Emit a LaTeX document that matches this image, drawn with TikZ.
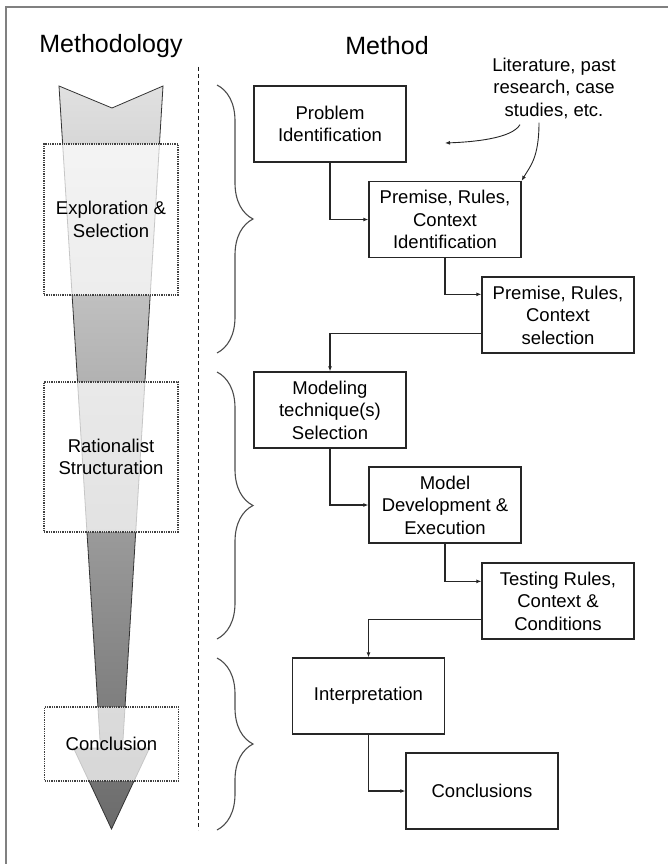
\documentclass[tikz,border=0pt]{standalone}
\usepackage{fontspec}
\setmainfont{Liberation Sans}
\usetikzlibrary{arrows.meta,decorations.pathreplacing}

\begin{document}
\begin{tikzpicture}[
    x=1pt, y=-1pt,
    font=\fontsize{18.5}{22.5}\selectfont,
    box/.style={draw=black!85, line width=1.3pt, minimum width=152pt, minimum height=76pt, align=center, inner sep=2pt},
    phase/.style={draw=black!75, densely dotted, line width=1.3pt, fill=white, fill opacity=0.72, text opacity=1, minimum width=134pt, align=center, inner sep=2pt},
    flow/.style={draw=black!85, line width=1.2pt, -{Latex[length=5pt,width=4pt]}},
    brc/.style={draw=black!70, line width=1.1pt, decorate, decoration={brace, amplitude=36pt}},
    head/.style={font=\fontsize{25}{30}\selectfont, anchor=base}
  ]
  \useasboundingbox (0,0) rectangle (668,864);

  % frame
  \draw[black!50, line width=2pt] (6,864) -- (6,7) -- (668,7);

  % headings
  \node[head] (hmeth) at (111,53) {Methodology};
  \node[head] (hmtd) at (387,55) {Method};

  % funnel arrow
  \draw[draw=black!80, line width=0.8pt, top color=black!12, bottom color=black!58]
    (59,86) -- (112,108) -- (163,86) -- (122.5,748) -- (149.5,748)
    -- (111.5,829) -- (73.5,748) -- (100.5,748) -- cycle;

  % phases
  \node[phase, minimum height=151pt] (expl) at (111,219.5) {Exploration \&\\Selection};
  \node[phase, minimum height=150pt] (rat) at (111,457) {Rationalist\\Structuration};
  \node[phase, minimum height=74pt] (concp) at (111.5,744) {Conclusion};

  % separator
  \draw[black!90, line width=1pt, dash pattern=on 4pt off 3pt] (198,67) -- (198,830);

  % braces
  \draw[brc] (217,85) -- (217,353);
  \draw[brc] (217,372) -- (217,639);
  \draw[brc] (217,658) -- (217,830);

  % method steps
  \node[box] (prob) at (330,124) {Problem\\Identification};
  \node[box] (prem) at (445,219.5) {Premise, Rules,\\Context\\Identification};
  \node[box] (sel) at (558,315) {Premise, Rules,\\Context\\selection};
  \node[box] (tech) at (330,410) {Modeling\\technique(s)\\Selection};
  \node[box] (dev) at (445,505) {Model\\Development \&\\Execution};
  \node[box] (test) at (558,601) {Testing Rules,\\Context \&\\Conditions};
  \node[box] (interp) at (368.5,696) {Interpretation};
  \node[box] (concl) at (482,791) {Conclusions};

  \draw[flow] (prob.south) |- (prem.west);
  \draw[flow] (prem.south) |- ([yshift=-18pt]sel.north west);
  \draw[flow] ([yshift=20pt]sel.south west) -| (tech.north);
  \draw[flow] (tech.south) |- (dev.west);
  \draw[flow] (dev.south) |- ([yshift=-19pt]test.north west);
  \draw[flow] ([yshift=20pt]test.south west) -| (interp.north);
  \draw[flow] (interp.south) |- (concl.west);

  % sources
  \node[align=center, inner sep=1pt] (lit) at (554,88) {Literature, past\\research, case\\studies, etc.};
  \coordinate (litend) at (445,143);
  \draw[flow, line width=0.9pt] ([xshift=-34pt, yshift=-5pt]lit.south) .. controls +(-8,14) and +(28,-1) .. (litend);
  \draw[flow, line width=0.9pt] ([xshift=-15pt, yshift=-3pt]lit.south) .. controls +(0,36) and +(8,-14) .. (prem.north east);
\end{tikzpicture}
\end{document}
